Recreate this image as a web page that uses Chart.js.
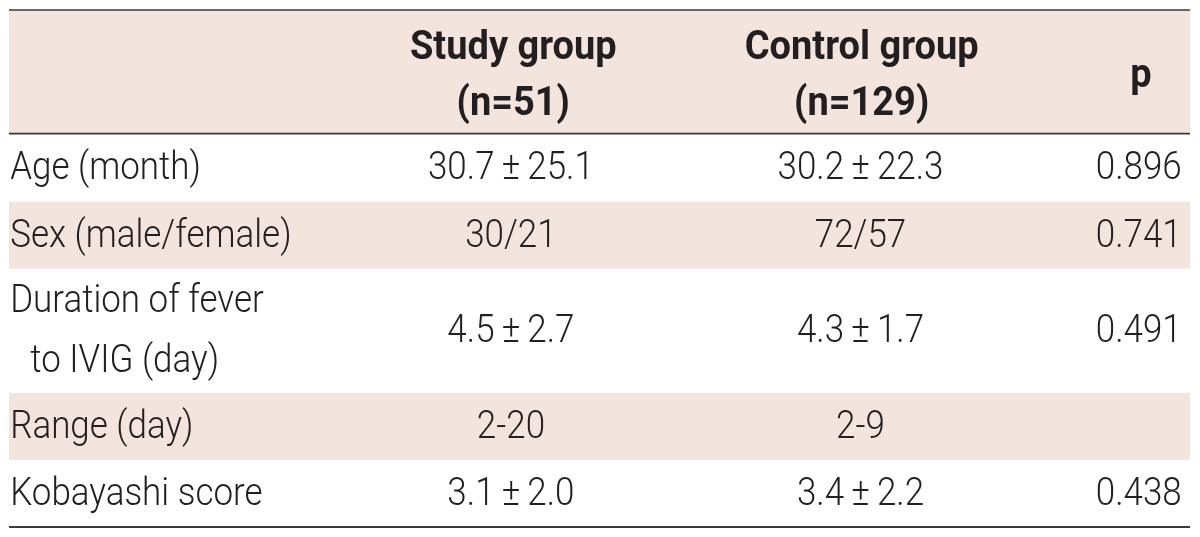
<!DOCTYPE html>
<html><head><meta charset="utf-8">
<script src="https://cdn.jsdelivr.net/npm/chart.js@4.4.1/dist/chart.umd.min.js"></script>
<style>html,body{margin:0;padding:0;background:#fff;}#wrap{width:1200px;height:537px;}</style>
</head><body><div id="wrap"><canvas id="c" width="1200" height="537"></canvas></div>
<script>
// ---- data ----
const columnHeaders = [[''], ['Study group', '(n=51)'], ['Control group', '(n=129)'], ['p']];
const rowLabels = [['Age (month)'], ['Sex (male/female)'], ['Duration of fever', 'to IVIG (day)'], ['Range (day)'], ['Kobayashi score']];
const studyGroup = ['30.7±25.1', '30/21', '4.5±2.7', '2-20', '3.1±2.0'];
const controlGroup = ['30.2±22.3', '72/57', '4.3±1.7', '2-9', '3.4±2.2'];
const pValues = ['0.896', '0.741', '0.491', '', '0.438'];
const shadedRows = [0, 2, 4]; // 0 = header row, then body rows 1..5

// ---- layout (in scale units) ----
const rowPad = 0.2, headGap = 1.0, bodyGap = 1.07, headShift = 0.09, bodyShift = 0.04;
const rowLineCounts = [2].concat(rowLabels.map(l => Math.max(l.length, 1)));
const rowBounds = [0];
rowLineCounts.forEach(n => rowBounds.push(rowBounds[rowBounds.length - 1] + n + rowPad));
const total = rowBounds[rowBounds.length - 1];
// column anchors in percent of table width
const colAnchor = [{x: 0.1, align: 'left'}, {x: 42.5, align: 'center'}, {x: 72.1, align: 'center'}, {x: 99.3, align: 'right'}];
const headerAnchor = [null, {x: 42.7, align: 'center'}, {x: 72.2, align: 'center'}, {x: 95.85, align: 'center'}];
const indentX = 1.8;

const bandColor = '#f3e4de';
const textColor = '#231f20';
const ruleColor = '#3b3b3b';
const bodyFont = '300 38px Roboto';
const headFont = 'bold 40px Roboto';
const bodySX = 0.92, headSX = 0.95;

const bandDatasets = shadedRows.map(r => ({
  data: [[rowBounds[r] + (r === 0 ? 0 : 0.02), rowBounds[r + 1]]],
  backgroundColor: bandColor, borderWidth: 0, grouped: false,
  barPercentage: 1, categoryPercentage: 1
}));

function drawText(ctx, t, x, y, align, font, sx) {
  ctx.save();
  ctx.font = font; ctx.fillStyle = textColor; ctx.textAlign = align; ctx.textBaseline = 'middle';
  ctx.translate(x, y); ctx.scale(sx, 1); ctx.fillText(t.replace('±', '\u2009±\u2009'), 0, 0);
  ctx.restore();
}

const tablePlugin = {
  id: 'tableText',
  afterDatasetsDraw(chart) {
    const ctx = chart.ctx, xs = chart.scales.xt, ys = chart.scales.y, a = chart.chartArea;
    const rules = [[rowBounds[0], 1.6], [rowBounds[1], 1.6], [total, 2]];
    rules.forEach(([v, w]) => {
      const yy = ys.getPixelForValue(v);
      ctx.save(); ctx.strokeStyle = ruleColor; ctx.lineWidth = w;
      ctx.beginPath(); ctx.moveTo(a.left, yy); ctx.lineTo(a.right, yy); ctx.stroke(); ctx.restore();
    });
    const lineYs = (r, n, gap, shift) => {
      const mid = (rowBounds[r] + rowBounds[r + 1]) / 2 + shift;
      return Array.from({length: n}, (_, i) => ys.getPixelForValue(mid + (i - (n - 1) / 2) * gap));
    };
    columnHeaders.forEach((lines, c) => {
      if (!headerAnchor[c]) return;
      const yy = lineYs(0, lines.length, headGap, headShift);
      lines.forEach((t, i) => drawText(ctx, t, xs.getPixelForValue(headerAnchor[c].x), yy[i], headerAnchor[c].align, headFont, headSX));
    });
    rowLabels.forEach((lines, r) => {
      const row = r + 1;
      const yy = lineYs(row, lines.length, bodyGap, bodyShift);
      lines.forEach((t, i) => drawText(ctx, t, xs.getPixelForValue(i === 0 ? colAnchor[0].x : indentX), yy[i], 'left', bodyFont, bodySX));
      const mid = lineYs(row, 1, bodyGap, bodyShift)[0];
      [studyGroup, controlGroup, pValues].forEach((arr, k) => {
        const an = colAnchor[k + 1];
        if (arr[r]) drawText(ctx, arr[r], xs.getPixelForValue(an.x), mid, an.align, bodyFont, bodySX);
      });
    });
  }
};

new Chart(document.getElementById('c'), {
  type: 'bar',
  data: {labels: ['table'], datasets: bandDatasets},
  options: {
    responsive: false, devicePixelRatio: 1, animation: false,
    layout: {padding: {left: 9, right: 10, top: 10, bottom: 10}},
    plugins: {legend: {display: false}, tooltip: {enabled: false}},
    scales: {
      x: {display: false},
      xt: {type: 'linear', axis: 'x', display: false, offset: false, min: 0, max: 100},
      y: {display: false, min: 0, max: total, reverse: true}
    }
  },
  plugins: [tablePlugin]
});
</script></body></html>
